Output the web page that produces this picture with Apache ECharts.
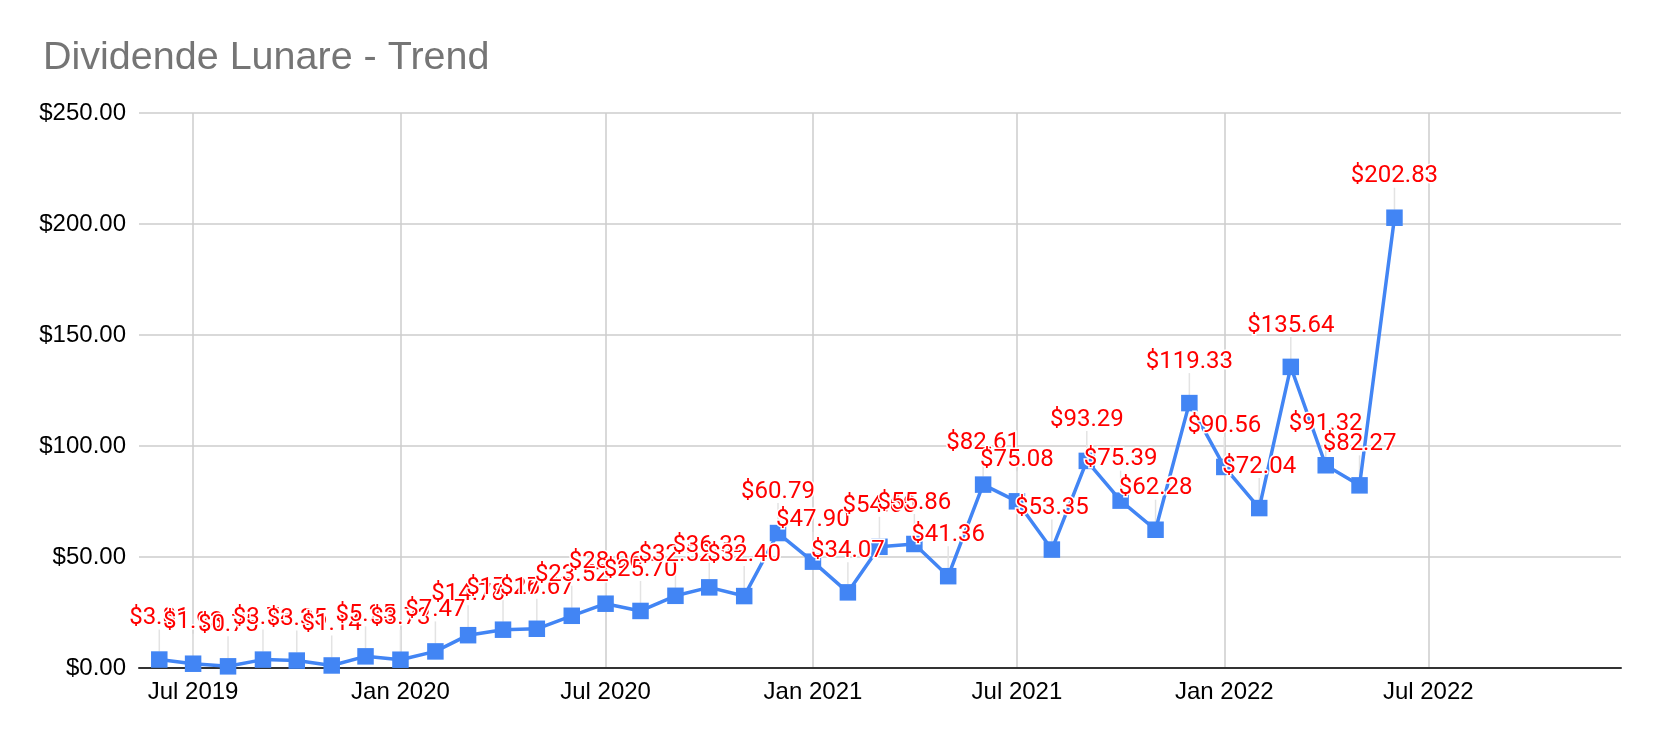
<!DOCTYPE html>
<html>
<head>
<meta charset="utf-8">
<script src="https://cdn.jsdelivr.net/npm/echarts@6/dist/echarts.min.js"></script>
<style>
html,body{margin:0;padding:0;background:#fff;}
#chart{width:1658px;height:742px;}
</style>
</head>
<body>
<div id="chart"></div>
<script>
const chartTitle = 'Dividende Lunare - Trend';
const months = [
  '2019-06-01','2019-07-01','2019-08-01','2019-09-01','2019-10-01','2019-11-01','2019-12-01',
  '2020-01-01','2020-02-01','2020-03-01','2020-04-01','2020-05-01','2020-06-01',
  '2020-07-01','2020-08-01','2020-09-01','2020-10-01','2020-11-01','2020-12-01',
  '2021-01-01','2021-02-01','2021-03-01','2021-04-01','2021-05-01','2021-06-01',
  '2021-07-01','2021-08-01','2021-09-01','2021-10-01','2021-11-01','2021-12-01',
  '2022-01-01','2022-02-01','2022-03-01','2022-04-01','2022-05-01','2022-06-01'
];
const dividends = [
  3.81, 1.93, 0.75, 3.78, 3.35, 1.14, 5.25,
  3.73, 7.47, 14.78, 17.26, 17.67, 23.52,
  28.96, 25.70, 32.52, 36.32, 32.40, 60.79,
  47.90, 34.07, 54.60, 55.86, 41.36, 82.61,
  75.08, 53.35, 93.29, 75.39, 62.28, 119.33,
  90.56, 72.04, 135.64, 91.32, 82.27, 202.83
];
const xMin = '2019-05-14';
const xMax = '2022-12-19';
const yTicks = [0, 50, 100, 150, 200, 250];
const monthNames = ['Jan','Feb','Mar','Apr','May','Jun','Jul','Aug','Sep','Oct','Nov','Dec'];

const seriesData = months.map((m, i) => [m, dividends[i]]);
const HALF_YEAR = 182 * 24 * 3600 * 1000;

const chart = echarts.init(document.getElementById('chart'), null, {renderer: 'canvas'});
chart.setOption({
  animation: false,
  backgroundColor: '#ffffff',
  title: {
    text: chartTitle,
    left: 38, top: 33,
    textStyle: {fontFamily: '"Liberation Sans", Arial, sans-serif', fontSize: 39.5, fontWeight: 'normal', color: '#757575'}
  },
  grid: {left: 139, right: 37, top: 113, bottom: 74, containLabel: false},
  xAxis: {
    type: 'time',
    min: xMin,
    max: xMax,
    minInterval: HALF_YEAR,
    maxInterval: HALF_YEAR * 1.02,
    axisLine: {show: true, lineStyle: {color: '#333333', width: 2}},
    axisTick: {show: false},
    splitLine: {show: true, showMinLine: false, showMaxLine: false, lineStyle: {color: '#cccccc', width: 1.5}},
    axisLabel: {
      fontFamily: '"Liberation Sans", Arial, sans-serif', fontSize: 24, color: '#000000', margin: 12,
      hideOverlap: false,
      showMinLabel: false, showMaxLabel: false,
      formatter: function (val) {
        const d = new Date(val);
        return monthNames[d.getMonth()] + ' ' + d.getFullYear();
      }
    }
  },
  yAxis: {
    type: 'value',
    min: yTicks[0],
    max: yTicks[yTicks.length - 1],
    interval: yTicks[1] - yTicks[0],
    axisLine: {show: false},
    axisTick: {show: false},
    splitLine: {show: true, lineStyle: {color: '#cccccc', width: 1.5}},
    axisLabel: {
      fontFamily: '"Liberation Sans", Arial, sans-serif', fontSize: 24, color: '#000000', margin: 13,
      formatter: v => '$' + v.toFixed(2)
    }
  },
  series: [
    {
      type: 'custom',
      z: 1,
      silent: true,
      data: seriesData,
      renderItem: function (params, api) {
        const p = api.coord([api.value(0), api.value(1)]);
        return {
          type: 'line',
          shape: {x1: p[0], y1: p[1] - 8, x2: p[0], y2: p[1] - 30},
          style: {stroke: '#e3e3e3', lineWidth: 1.5}
        };
      }
    },
    {
      type: 'line',
      z: 3,
      data: seriesData,
      symbol: 'rect',
      symbolSize: 16.5,
      lineStyle: {color: '#4285f4', width: 3.5},
      itemStyle: {color: '#4285f4'},
      label: {
        show: true,
        position: 'top',
        distance: 21,
        fontFamily: 'Roboto, sans-serif',
        fontSize: 24,
        color: '#ff0000',
        textBorderColor: '#ffffff',
        textBorderWidth: 3,
        formatter: p => '$' + p.value[1].toFixed(2)
      }
    }
  ]
});
</script>
</body>
</html>
